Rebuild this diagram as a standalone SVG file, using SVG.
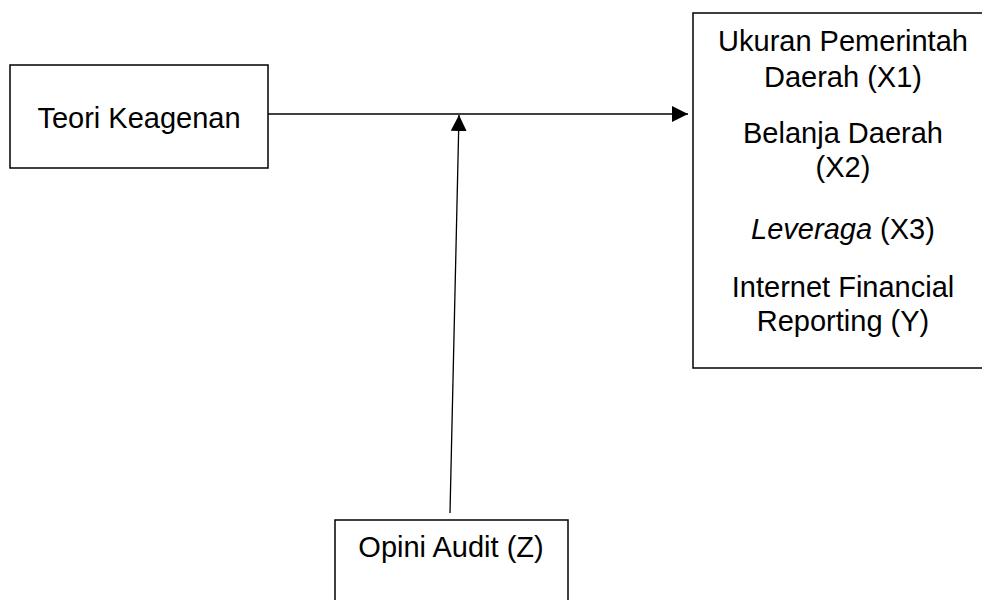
<svg xmlns="http://www.w3.org/2000/svg" width="982" height="600" viewBox="0 0 982 600">
<style>
.box{fill:#fff;stroke:#000;stroke-width:1.5}
.t{font-family:"Liberation Sans",Arial,sans-serif;font-size:29px;fill:#000;text-anchor:middle}
.c{stroke:#000;stroke-width:1.3;fill:none}
</style>
<defs>
<marker id="ah" markerUnits="userSpaceOnUse" markerWidth="16" markerHeight="16" refX="16" refY="8" orient="auto">
<path d="M0,0 L16,8 L0,16 Z" fill="#000"/>
</marker>
</defs>
<rect width="982" height="600" fill="#fff"/>
<g id="connectors">
<line class="c" x1="268" y1="114" x2="688" y2="114" marker-end="url(#ah)"/>
<line class="c" x1="450" y1="513" x2="459" y2="115" marker-end="url(#ah)"/>
</g>
<g id="teori">
<rect class="box" x="10" y="65" width="258" height="103"/>
<text class="t" x="139" y="128">Teori Keagenan</text>
</g>
<g id="variabel">
<rect class="box" x="693" y="13" width="300" height="355"/>
<text class="t" x="843" y="51">Ukuran Pemerintah</text>
<text class="t" x="843" y="87">Daerah (X1)</text>
<text class="t" x="843" y="143">Belanja Daerah</text>
<text class="t" x="843" y="177">(X2)</text>
<text class="t" x="843" y="239"><tspan font-style="italic">Leveraga</tspan> (X3)</text>
<text class="t" x="843" y="297">Internet Financial</text>
<text class="t" x="843" y="331">Reporting (Y)</text>
</g>
<g id="opini">
<rect class="box" x="335" y="520" width="233" height="100"/>
<text class="t" x="451" y="557">Opini Audit (Z)</text>
</g>
</svg>
